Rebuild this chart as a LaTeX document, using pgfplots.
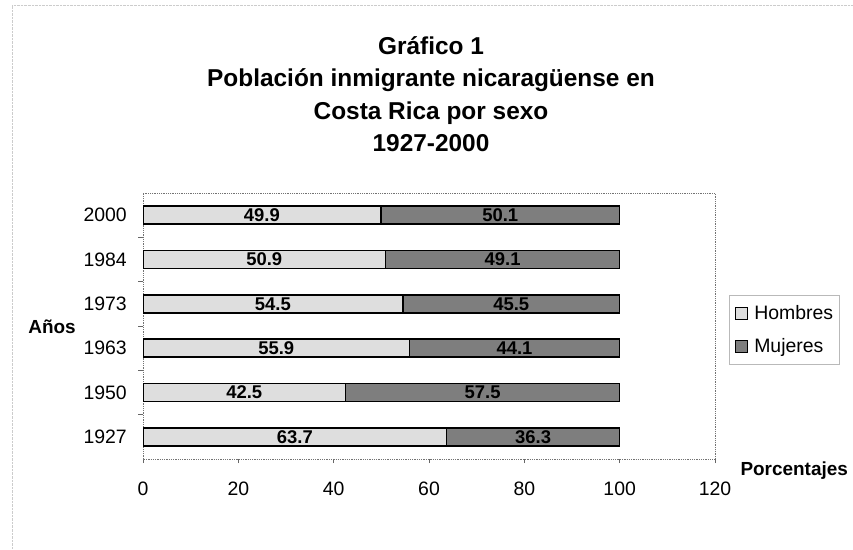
\documentclass[border=0pt]{standalone}
\usepackage{fontspec}
\setmainfont{Liberation Sans}
\usepackage{pgfplots}
\usepackage{pgfplotstable}
\pgfplotsset{compat=1.18}

\definecolor{hombres}{HTML}{DEDEDE}
\definecolor{mujeres}{HTML}{7E7E7E}

% Porcentaje de hombres y mujeres por año censal
\pgfplotstableread{
pos anio hombres mujeres
0 1927 63.7 36.3
1 1950 42.5 57.5
2 1963 55.9 44.1
3 1973 54.5 45.5
4 1984 50.9 49.1
5 2000 49.9 50.1
}\datos

\pgfplotsset{
  marcocomun/.style={
    at={(143bp,-459bp)}, anchor=south west,
    scale only axis, width=572bp, height=266bp,
    xmin=0, xmax=120, ymin=-0.5, ymax=5.5,
  },
  /pgf/number format/assume math mode=true,
}

\begin{document}
\begin{tikzpicture}
\useasboundingbox (0bp,0bp) rectangle (853bp,-550bp);
\fill[white] (0bp,0bp) rectangle (853bp,-550bp);
\draw[gray!40, densely dotted] (12bp,-550bp) -- (12bp,-5bp) -- (853bp,-5bp);

% Título
\begin{scope}[every node/.style={font=\bfseries\fontsize{24.5}{28}\selectfont, anchor=base}]
\node at (431bp,-54bp) {Gráfico 1};
\node at (431bp,-86.5bp) {Población inmigrante nicaragüense en};
\node at (431bp,-119bp) {Costa Rica por sexo};
\node at (431bp,-151.5bp) {1927-2000};
\end{scope}

\begin{axis}[
  marcocomun,
  xbar stacked, bar width=18bp,
  xtick={0,20,...,120},
  ytick={0,...,5},
  yticklabels={1927,1950,1963,1973,1984,2000},
  xtick pos=bottom, ytick pos=left,
  minor y tick num=1,
  every major y tick/.style={draw=none},
  every minor y tick/.style={draw=black!60, line width=0.6bp},
  minor tick length=5bp,
  major tick length=4bp,
  tick align=outside,
  xtick style={draw=black!60, line width=0.6bp},
  axis line style={draw=black!55, densely dotted, line width=0.8bp},
  tick label style={font=\fontsize{19.5}{21}\selectfont},
  xticklabel style={anchor=base, inner sep=0pt, yshift=-32bp},
  yticklabel style={anchor=east, inner sep=0pt, xshift=-12bp},
  legend style={
    at={(axis description cs:1.0245,0.6165)}, anchor=north west,
    draw=gray!55, line width=0.5bp,
    font=\fontsize{19.5}{21}\selectfont,
    cells={anchor=west}, row sep=13bp, column sep=6bp,
    nodes={inner sep=0bp, text height=16bp, text depth=4bp},
    inner xsep=6bp, inner ysep=8bp,
  },
  legend image code/.code={
    \draw[#1, draw=black, line width=1bp] (0bp,-6bp) rectangle (12bp,6bp);
  },
]
\addplot[fill=hombres, draw=black, line width=1.6bp]
  table[x=hombres, y=pos] {\datos};
\addlegendentry{Hombres}
\addplot[fill=mujeres, draw=black, line width=1.6bp]
  table[x=mujeres, y=pos] {\datos};
\addlegendentry{Mujeres}
\end{axis}

% Rótulos de valor en el centro de cada segmento
\begin{axis}[marcocomun, hide axis]
\addplot[draw=none, nodes near coords, point meta=explicit,
  nodes near coords style={font=\bfseries\fontsize{18.5}{20}\selectfont, anchor=center, inner sep=0pt}]
  table[x expr=\thisrow{hombres}/2, y=pos, meta=hombres] {\datos};
\addplot[draw=none, nodes near coords, point meta=explicit,
  nodes near coords style={font=\bfseries\fontsize{18.5}{20}\selectfont, anchor=center, inner sep=0pt}]
  table[x expr=\thisrow{hombres}+\thisrow{mujeres}/2, y=pos, meta=mujeres] {\datos};
\end{axis}

% Títulos de los ejes
\node[font=\bfseries\fontsize{19}{21}\selectfont] at (52bp,-327bp) {Años};
\node[font=\bfseries\fontsize{19}{21}\selectfont, anchor=west] at (737bp,-471bp) {Porcentajes};
\end{tikzpicture}
\end{document}
